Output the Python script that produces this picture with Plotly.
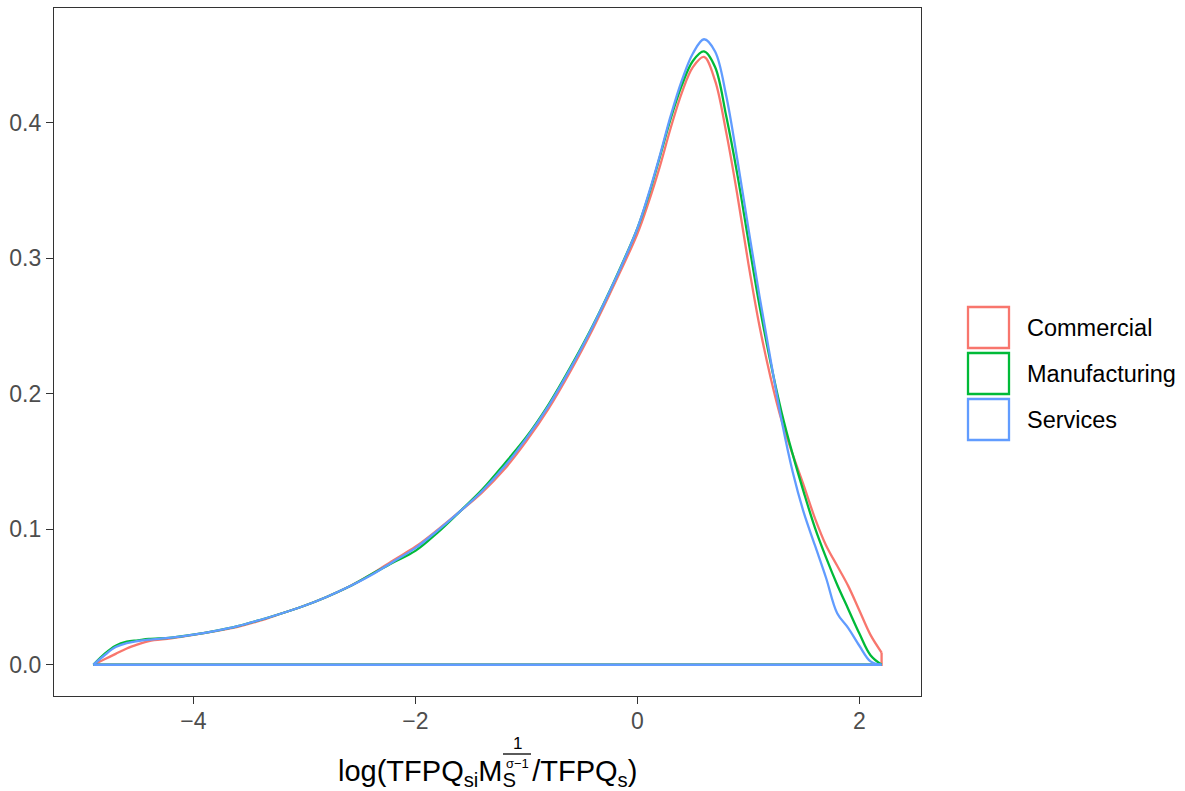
import plotly.graph_objects as go

# ---------------- data ----------------
X = [-4.9, -4.8, -4.7, -4.6, -4.5, -4.4,
     -4.2, -4.0, -3.8, -3.6, -3.4, -3.2, -3.0, -2.8, -2.6, -2.4, -2.2, -2.0,
     -1.8, -1.6, -1.4, -1.2, -1.0, -0.8, -0.6, -0.4, -0.2, 0.0,
     0.1, 0.2, 0.3, 0.4, 0.5, 0.6, 0.7, 0.8, 0.9, 1.0, 1.1, 1.2, 1.3, 1.4,
     1.5, 1.6, 1.7, 1.8, 1.9, 2.0, 2.1, 2.2]

commercial = [0.000, 0.004, 0.008, 0.012, 0.015, 0.0175,
              0.0195, 0.0220, 0.0248, 0.0280, 0.0325, 0.0380, 0.0435, 0.0500, 0.0575, 0.0665, 0.0770, 0.0870,
              0.0995, 0.1130, 0.1270, 0.1440, 0.1650, 0.1890, 0.2170, 0.2480, 0.2820, 0.3180,
              0.3410, 0.3670, 0.3960, 0.4220, 0.4410, 0.4485, 0.4310, 0.3930, 0.3470, 0.2960, 0.2500, 0.2120,
              0.1800, 0.1550, 0.1320, 0.1080, 0.0880, 0.0730, 0.0580, 0.0400, 0.0220, 0.0090]

manufacturing = [0.000, 0.008, 0.014, 0.017, 0.018, 0.019,
                 0.0200, 0.0222, 0.0250, 0.0285, 0.0330, 0.0380, 0.0435, 0.0500, 0.0575, 0.0665, 0.0755, 0.0840,
                 0.0975, 0.1130, 0.1290, 0.1480, 0.1680, 0.1920, 0.2200, 0.2505, 0.2845, 0.3220,
                 0.3460, 0.3740, 0.4030, 0.4275, 0.4455, 0.4525, 0.4410, 0.4050, 0.3620, 0.3130, 0.2650, 0.2230,
                 0.1860, 0.1550, 0.1270, 0.1010, 0.0790, 0.0590, 0.0410, 0.0230, 0.0070, 0.0]

services = [0.000, 0.007, 0.013, 0.016, 0.0175, 0.0185,
            0.0200, 0.0222, 0.0250, 0.0285, 0.0330, 0.0380, 0.0435, 0.0500, 0.0575, 0.0660, 0.0760, 0.0860,
            0.0990, 0.1130, 0.1280, 0.1460, 0.1670, 0.1910, 0.2190, 0.2500, 0.2840, 0.3220,
            0.3470, 0.3750, 0.4050, 0.4310, 0.4510, 0.4615, 0.4525, 0.4200, 0.3730, 0.3220, 0.2720, 0.2250,
            0.1800, 0.1420, 0.1120, 0.0880, 0.0640, 0.0380, 0.0270, 0.0140, 0.0025, 0.0]

series_names = ["Commercial", "Manufacturing", "Services"]
series_values = [commercial, manufacturing, services]
colors = ["#F8766D", "#00BA38", "#619CFF"]

x_tick_vals = [-4, -2, 0, 2]
x_tick_text = ["\u22124", "\u22122", "0", "2"]
y_tick_vals = [0.0, 0.1, 0.2, 0.3, 0.4]
y_tick_text = ["0.0", "0.1", "0.2", "0.3", "0.4"]

# ---------------- layout geometry (pixels) ----------------
W, H = 1185, 791
PL, PR, PT, PB = 54, 921, 8, 696
FONT = "Liberation Sans, Arial, sans-serif"


def fx(px):
    return (px - PL) / (PR - PL)


def fy(py):
    return (PB - py) / (PB - PT)


xmin, xmax = min(X), max(X)
ymax = max(max(v) for v in series_values)
xpad = (xmax - xmin) * 0.05
ypad = ymax * 0.05

fig = go.Figure()
for name, vals, col in zip(series_names, series_values, colors):
    fig.add_trace(go.Scatter(x=X, y=vals, mode="lines", name=name,
                             line=dict(color=col, width=2.3, shape="spline", smoothing=1.0),
                             showlegend=False, hoverinfo="skip"))
    fig.add_trace(go.Scatter(x=[X[-1], X[-1], X[0]], y=[vals[-1], 0, 0], mode="lines",
                             line=dict(color=col, width=2.3), showlegend=False, hoverinfo="skip"))

axis_common = dict(showgrid=False, zeroline=False, showline=True, mirror=True,
                   linecolor="#333333", linewidth=1.3, ticks="outside", ticklen=7,
                   tickwidth=1.3, tickcolor="#333333",
                   tickfont=dict(family=FONT, size=23, color="#4D4D4D"))

fig.update_layout(
    width=W, height=H, autosize=False,
    margin=dict(l=PL, r=W - PR, t=PT, b=H - PB, pad=0),
    paper_bgcolor="white", plot_bgcolor="white",
    xaxis=dict(range=[xmin - xpad, xmax + xpad], tickvals=x_tick_vals, ticktext=x_tick_text,
               ticklabelstandoff=-3, **axis_common),
    yaxis=dict(range=[-ypad, ymax + ypad], tickvals=y_tick_vals, ticktext=y_tick_text,
               **axis_common),
    showlegend=False,
)

# ---------------- manual legend ----------------
key_tops = [306, 352, 398]
for name, col, top in zip(series_names, colors, key_tops):
    fig.add_shape(type="rect", xref="paper", yref="paper",
                  x0=fx(968), x1=fx(1009), y0=fy(top + 42), y1=fy(top + 1),
                  line=dict(color=col, width=2.3), fillcolor="rgba(0,0,0,0)")
    fig.add_annotation(xref="paper", yref="paper", x=fx(1025), y=fy(top + 21.5),
                       xanchor="left", yanchor="middle", showarrow=False,
                       text=name, font=dict(family=FONT, size=23.5, color="black"))

# ---------------- x-axis title (plotmath-like) ----------------
fig.add_annotation(xref="paper", yref="paper", x=fx(487.5), y=fy(773),
                   xanchor="center", yanchor="middle", showarrow=False,
                   text="log(TFPQ<sub>si</sub>M<sub>S</sub>\u00a0\u00a0/TFPQ<sub>s</sub>)",
                   font=dict(family=FONT, size=29, color="black"))
# fraction 1/(sigma-1) as superscript
fig.add_annotation(xref="paper", yref="paper", x=fx(517), y=fy(744),
                   xanchor="center", yanchor="middle", showarrow=False,
                   text="1", font=dict(family=FONT, size=17, color="black"))
fig.add_shape(type="line", xref="paper", yref="paper",
              x0=fx(503), x1=fx(531), y0=fy(754), y1=fy(754),
              line=dict(color="black", width=1.3))
fig.add_annotation(xref="paper", yref="paper", x=fx(517), y=fy(763),
                   xanchor="center", yanchor="middle", showarrow=False,
                   text="\u03c3\u22121", font=dict(family=FONT, size=13, color="black"))

fig.write_html("out.html", config={"displayModeBar": False},
               post_script="document.body.style.margin='0px';")
